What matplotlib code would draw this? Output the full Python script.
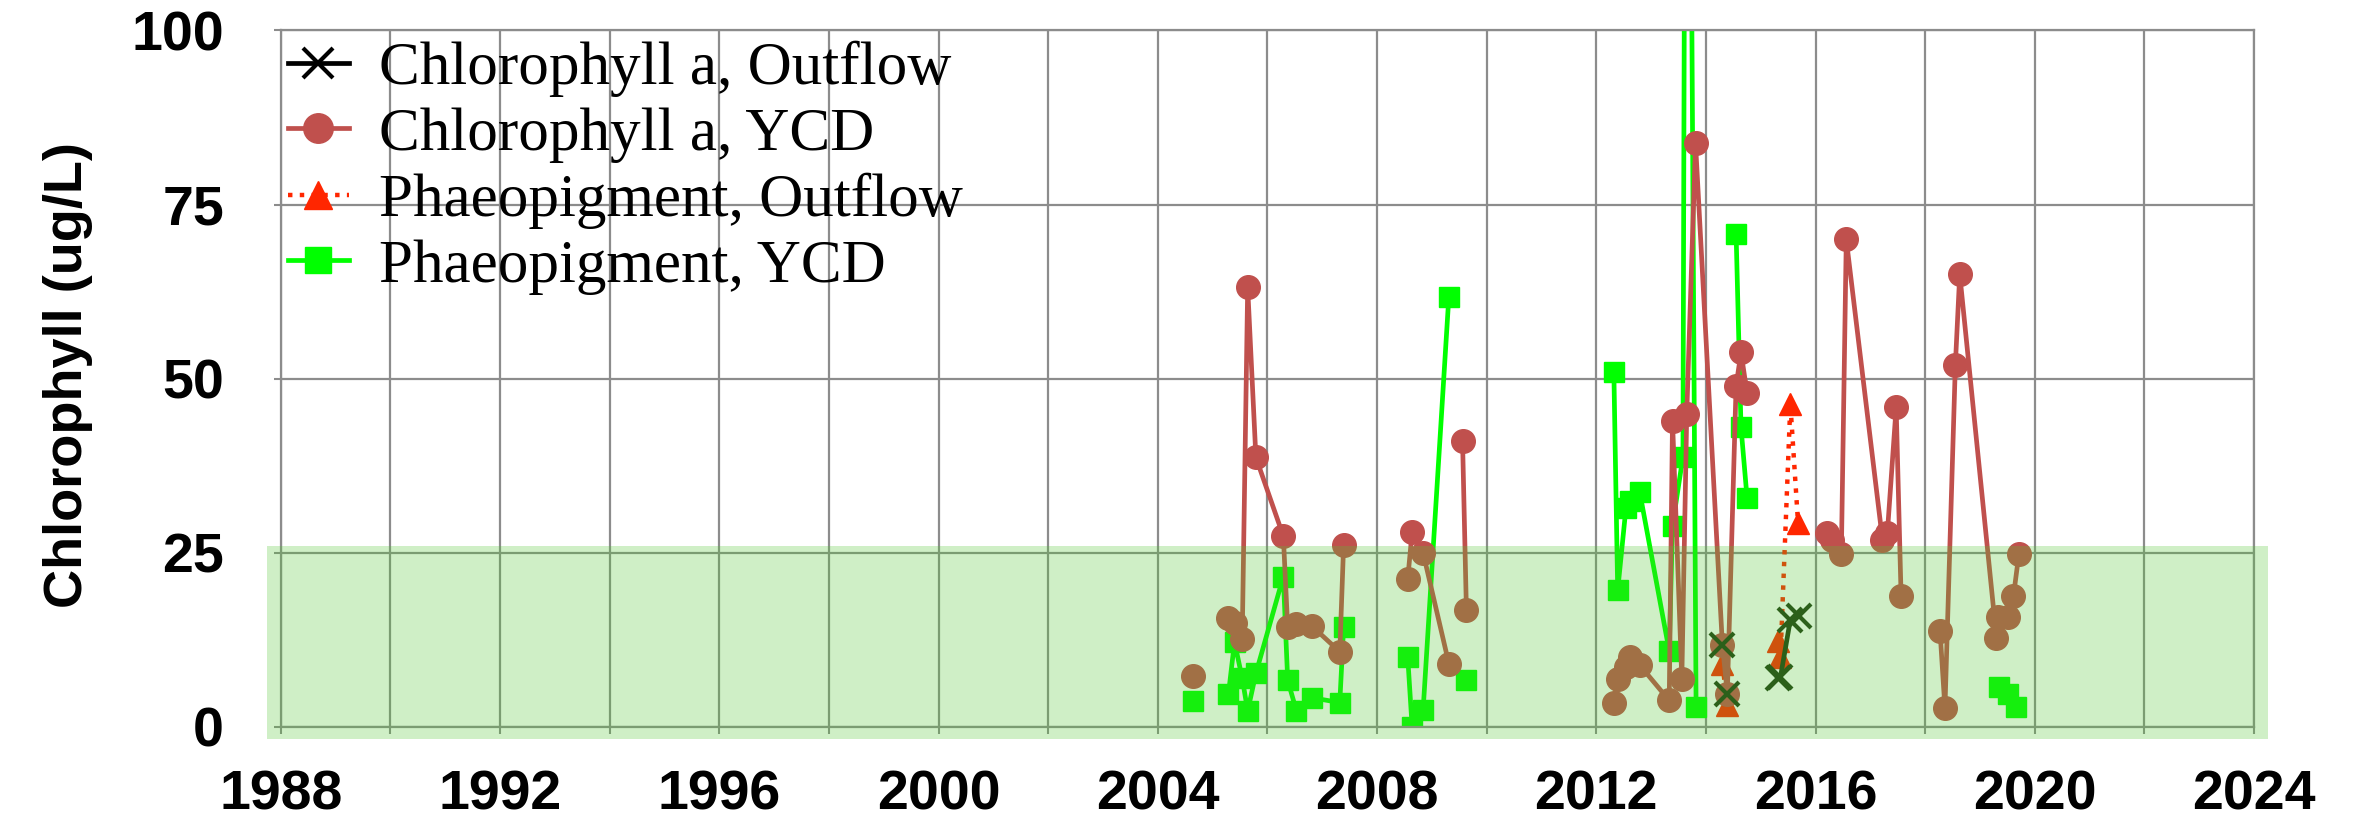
import numpy as np
import matplotlib
matplotlib.use("Agg")
import matplotlib.pyplot as plt
from matplotlib.patches import Rectangle

# None = gap in the series (line break)
chl_out_dates = [2014.30, None, 2014.39, None, 2015.31, 2015.36, 2015.54, 2015.70]
chl_out_vals = [11.8, None, 4.8, None, 7.0, 7.2, 15.4, 16.0]

chl_ycd_dates = [2004.64, None,
                 2005.29, 2005.40, 2005.54, 2005.64, 2005.79, 2006.29, 2006.37,
                 2006.53, 2006.81, 2007.32, 2007.39, None,
                 2008.56, 2008.64, 2008.84, 2009.31, None, 2009.56, 2009.63, None,
                 2012.32, 2012.39, 2012.54, 2012.62, 2012.79, 2013.33, 2013.39,
                 2013.56, 2013.65, 2013.81, 2014.30, 2014.39, 2014.55, 2014.64,
                 2014.75, None,
                 2016.21, 2016.30, 2016.47, 2016.56, 2017.22, 2017.31, 2017.47,
                 2017.56, None,
                 2018.27, 2018.36, 2018.55, 2018.63, 2019.30, 2019.32, 2019.51,
                 2019.61, 2019.71]
chl_ycd_vals = [7.3, None,
                15.7, 14.9, 12.6, 63.1, 38.7, 27.4, 14.3,
                14.8, 14.5, 10.8, 26.1, None,
                21.3, 28.0, 25.0, 9.1, None, 41.0, 16.8, None,
                3.4, 6.9, 8.6, 10.0, 8.9, 3.8, 44.0,
                6.9, 45.0, 83.8, 11.8, 4.8, 49.0, 53.8,
                47.9, None,
                27.9, 26.9, 24.9, 70.0, 26.9, 27.9, 45.9,
                18.8, None,
                13.8, 2.7, 52.0, 65.0, 12.8, 15.8, 15.8,
                18.8, 24.9]

phaeo_out_dates = [2014.30, 2014.39, None, 2015.31, 2015.36, 2015.54, 2015.68]
phaeo_out_vals = [9.1, 3.1, None, 12.3, 10.1, 46.4, 29.3]

phaeo_ycd_dates = [2004.64, None,
                   2005.29, 2005.40, 2005.54, 2005.64, 2005.79, 2006.29, 2006.37,
                   2006.53, 2006.81, 2007.32, 2007.39, None,
                   2008.56, 2008.64, 2008.84, 2009.31, None, 2009.63, None,
                   2012.32, 2012.39, 2012.54, 2012.62, 2012.79, 2013.33, 2013.39,
                   2013.58, 2013.65, 2013.82, None,
                   2014.55, 2014.64, 2014.75, None,
                   2019.34, 2019.51, 2019.66]
phaeo_ycd_vals = [3.7, None,
                  4.8, 12.2, 7.0, 2.3, 7.7, 21.6, 6.7,
                  2.3, 4.2, 3.5, 14.3, None,
                  10.0, 0.0, 2.4, 61.8, None, 6.8, None,
                  50.9, 19.6, 31.4, 32.5, 33.8, 10.9, 28.9,
                  38.8, 220.0, 2.8, None,
                  70.8, 43.0, 32.9, None,
                  5.7, 4.7, 2.8]

band_low, band_high = -1.7, 26.0
x_ticks = [1988, 1992, 1996, 2000, 2004, 2008, 2012, 2016, 2020, 2024]
y_ticks = [0, 25, 50, 75, 100]


def arr(v):
    return np.array([np.nan if a is None else a for a in v], dtype=float)


fig = plt.figure(figsize=(23.77, 8.33), dpi=100)
ax = fig.add_axes([0.1181, 0.1273, 0.8302, 0.8361])

# drawn back to front: green, orange, red, dark
l4, = ax.plot(arr(phaeo_ycd_dates), arr(phaeo_ycd_vals), color="#00ff00", lw=3.4,
              marker="s", ms=14.5, mec="#00ff00", zorder=2, label="Phaeopigment, YCD")
l3, = ax.plot(arr(phaeo_out_dates), arr(phaeo_out_vals), color="#ff2600", lw=3.2,
              ls=":", marker="^", ms=16, mec="#ff2600", zorder=3,
              label="Phaeopigment, Outflow")
l2, = ax.plot(arr(chl_ycd_dates), arr(chl_ycd_vals), color="#c0504d", lw=3.4,
              marker="o", ms=17, mec="#c0504d", zorder=4, label="Chlorophyll a, YCD")
l1, = ax.plot(arr(chl_out_dates), arr(chl_out_vals), color="#1f3a12", lw=3.4,
              marker="x", ms=17, mew=3, zorder=5, label="Chlorophyll a, Outflow")

ax.add_patch(Rectangle((x_ticks[0] - 0.25, band_low), x_ticks[-1] - x_ticks[0] + 0.5,
                       band_high - band_low, facecolor=(0.314, 0.784, 0.188),
                       alpha=0.275, edgecolor="none", zorder=6, clip_on=False))

ax.set_xlim(x_ticks[0], x_ticks[-1])
ax.set_ylim(y_ticks[0], y_ticks[-1])
ax.set_xticks(x_ticks)
ax.set_xticks(np.arange(x_ticks[0] + 2, x_ticks[-1], 4), minor=True)
ax.set_yticks(y_ticks)
ax.grid(True, which="both", color="#8c8c8c", lw=1.6)
ax.set_axisbelow(True)
for s in ax.spines.values():
    s.set_color("#8c8c8c")
    s.set_linewidth(1.6)
ax.tick_params(which="both", direction="out", length=4.8, width=1.5, color="#8c8c8c")
ax.tick_params(axis="x", pad=26)
ax.tick_params(axis="y", pad=36)
for lab in ax.get_xticklabels() + ax.get_yticklabels():
    lab.set_fontfamily("Liberation Sans")
    lab.set_fontweight("bold")
    lab.set_fontsize(40)

fig.text(0.0286, 0.55, "Chlorophyll (ug/L)", rotation=90, ha="center", va="center",
         fontsize=39, fontweight="bold", family="Liberation Sans")

leg = ax.legend(handles=[l1, l2, l3, l4], loc="upper left",
                bbox_to_anchor=(0.0035, 0.985), frameon=False, borderpad=0,
                borderaxespad=0, handlelength=1.0, handletextpad=0.5,
                labelspacing=0.16, markerscale=1.25,
                prop={"family": "Liberation Serif", "size": 44})
leg.set_zorder(10)
# legend shows the outflow series in black
leg.legend_handles[0].set_color("black")

fig.savefig("out.png", dpi=100)
